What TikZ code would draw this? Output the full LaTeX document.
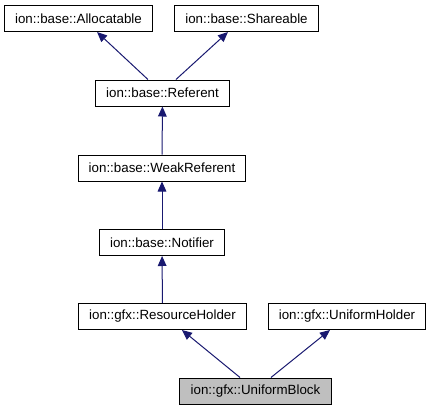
\documentclass[tikz,border=0pt]{standalone}
\usepackage{fontspec}
\setmainfont{Liberation Sans}
\usetikzlibrary{arrows.meta}
\definecolor{edgeblue}{RGB}{25,25,112}
\definecolor{boxgray}{RGB}{191,191,191}
\begin{document}
\begin{tikzpicture}[x=0.75pt,y=-0.75pt,
  cls/.style={draw=black,fill=white,line width=0.75pt,minimum height=19.5pt,
    inner xsep=8pt,inner ysep=0pt,font=\fontsize{10pt}{12pt}\selectfont},
  inh/.style={draw=edgeblue,line width=0.75pt,
    -{Triangle[length=7.5pt,width=6.5pt,fill=edgeblue]}}]
\useasboundingbox (0,0) rectangle (433,411);
% bases
\node[cls] (alloc) at (78.5,18.5) {ion::base::Allocatable};
\node[cls] (share) at (246.5,18.5) {ion::base::Shareable};
\node[cls] (ref) at (162.5,93) {ion::base::Referent};
\node[cls] (weak) at (162,168) {ion::base::WeakReferent};
\node[cls] (notif) at (162,242.5) {ion::base::Notifier};
\node[cls] (res) at (162.5,316.5) {ion::gfx::ResourceHolder};
\node[cls] (uhold) at (347,316.5) {ion::gfx::UniformHolder};
% this class
\node[cls,fill=boxgray] (block) at (255.5,391) {ion::gfx::UniformBlock};
% inheritance
\draw[inh] ([xshift=-10.9pt]ref.north) -- ([xshift=13.9pt]alloc.south);
\draw[inh] ([xshift=10.1pt]ref.north) -- ([xshift=-13.9pt]share.south);
\draw[inh] (weak) -- (ref);
\draw[inh] (notif) -- (weak);
\draw[inh] (res) -- (notif);
\draw[inh] ([xshift=-11.6pt]block.north) -- ([xshift=14.6pt]res.south);
\draw[inh] ([xshift=11.6pt]block.north) -- ([xshift=-12.8pt]uhold.south);
\end{tikzpicture}
\end{document}
